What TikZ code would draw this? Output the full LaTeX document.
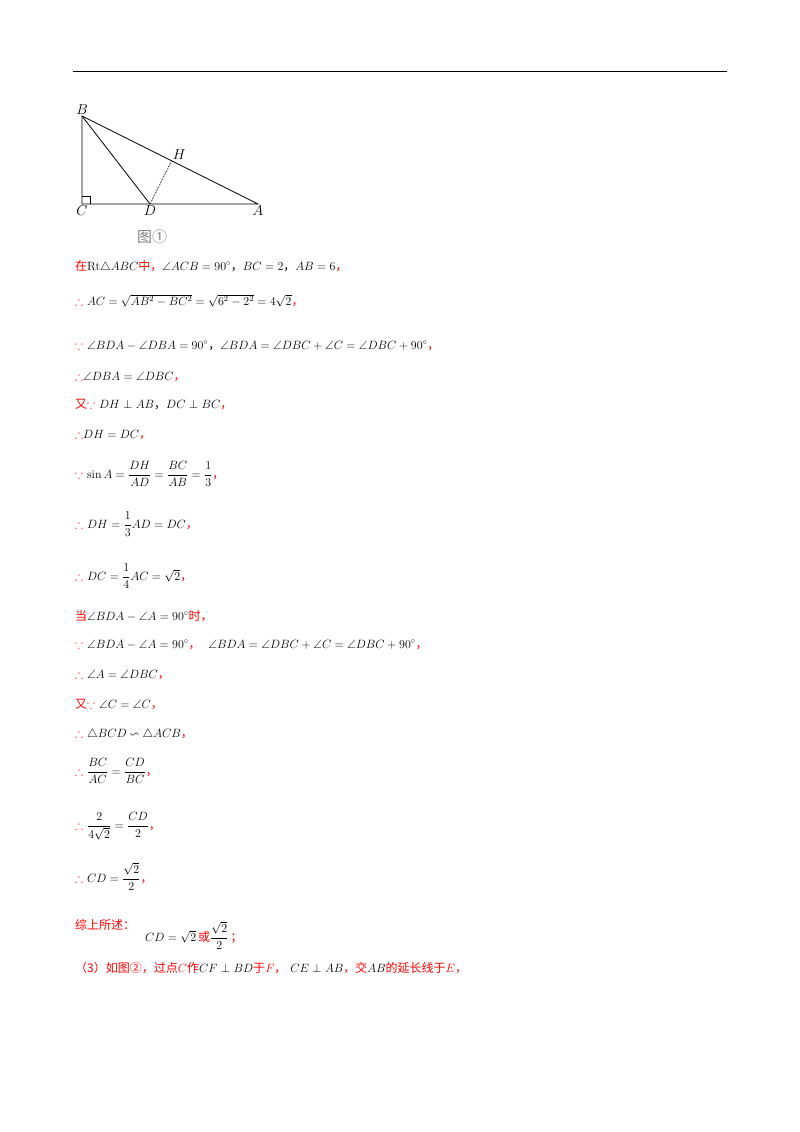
\documentclass[tikz,border=0pt]{standalone}
\usepackage{amsmath,amssymb}
\usepackage{fontspec}
\newfontfamily\cjk{Noto Sans CJK SC}
\usepackage{tikz}
\usetikzlibrary{calc}
\newcommand{\zh}[1]{{\cjk\color{red}#1}}
\newcommand{\rd}[1]{{\color{red}#1}}
\tikzset{
  line/.style={anchor=base west,inner sep=0pt,font=\fontsize{12}{14}\selectfont},
  pt/.style={font=\fontsize{14}{16}\selectfont\itshape,inner sep=1pt}
}
\begin{document}
\begin{tikzpicture}[x=1pt,y=-1pt]
\useasboundingbox (0,0) rectangle (800,1132);
\draw[line width=1pt] (73,72) -- (727,72);
% figure
\coordinate (B) at (82,116);
\coordinate (C) at (82,204);
\coordinate (D) at (150,204);
\coordinate (A) at (258,204);
\coordinate (H) at ($(B)!(D)!(A)$);
\draw[thick] (B) -- (C) -- (A) -- cycle;
\draw[thick] (B) -- (D);
\draw[densely dotted,thick] (D) -- (H);
\draw (82,196) -- (90,196) -- (90,204);
\node[pt,anchor=south] at (B) {$B$};
\node[pt,anchor=north] at (C) {$C$};
\node[pt,anchor=north] at (D) {$D$};
\node[pt,anchor=north] at (A) {$A$};
\node[pt,anchor=south west] at (H) {$H$};
\node[line,text=gray,font=\fontsize{15}{16}\selectfont] (fig) at (137,242) {\cjk 图①};
% solution
\node[line] (l1) at (75,270) {\zh{在}Rt$\triangle ABC$\zh{中，}$\angle ACB=90^\circ$\cjk，$BC=2$\cjk，$AB=6$\zh{，}};
\node[line] (l2) at (75,305) {\rd{$\therefore$} $AC=\sqrt{AB^2-BC^2}=\sqrt{6^2-2^2}=4\sqrt2$\zh{，}};
\node[line] (l3) at (75,349) {\rd{$\because$} $\angle BDA-\angle DBA=90^\circ$\cjk，$\angle BDA=\angle DBC+\angle C=\angle DBC+90^\circ$\zh{，}};
\node[line] (l4) at (75,380) {\rd{$\therefore$}$\angle DBA=\angle DBC$\zh{，}};
\node[line] (l5) at (75,408) {\zh{又}\rd{$\because$} $DH\perp AB$\cjk，$DC\perp BC$\zh{，}};
\node[line] (l6) at (75,438) {\rd{$\therefore$}$DH=DC$\zh{，}};
\node[line] (l7) at (75,478) {\rd{$\because$} $\sin A=\dfrac{DH}{AD}=\dfrac{BC}{AB}=\dfrac13$\zh{，}};
\node[line] (l8) at (75,528) {\rd{$\therefore$} $DH=\dfrac13 AD=DC$\zh{，}};
\node[line] (l9) at (75,580) {\rd{$\therefore$} $DC=\dfrac14 AC=\sqrt2$\zh{，}};
\node[line] (l10) at (75,620) {\zh{当}$\angle BDA-\angle A=90^\circ$\zh{时，}};
\node[line] (l11) at (75,648) {\rd{$\because$} $\angle BDA-\angle A=90^\circ$\zh{，}\ \ $\angle BDA=\angle DBC+\angle C=\angle DBC+90^\circ$\zh{，}};
\node[line] (l12) at (75,678) {\rd{$\therefore$} $\angle A=\angle DBC$\zh{，}};
\node[line] (l13) at (75,708) {\zh{又}\rd{$\because$} $\angle C=\angle C$\zh{，}};
\node[line] (l14) at (75,737) {\rd{$\therefore$} $\triangle BCD\backsim\triangle ACB$\zh{，}};
\node[line] (l15) at (75,775) {\rd{$\therefore$} $\dfrac{BC}{AC}=\dfrac{CD}{BC}$\zh{，}};
\node[line] (l16) at (75,829) {\rd{$\therefore$} $\dfrac{2}{4\sqrt2}=\dfrac{CD}{2}$\zh{，}};
\node[line] (l17) at (75,882) {\rd{$\therefore$} $CD=\dfrac{\sqrt2}{2}$\zh{，}};
\node[line] (l18) at (75,929) {\zh{综上所述：}};
\node[line] (l18b) at (145,941) {$CD=\sqrt2$\,\zh{或}$\dfrac{\sqrt2}{2}$\,\zh{；}};
\node[line] (l19) at (75,972) {\zh{（3）如图②，过点}\rd{$C$}\zh{作}$CF\perp BD$\zh{于}\rd{$F$}\zh{，}\ $CE\perp AB$\zh{，交}$AB$\zh{的延长线于}\rd{$E$}\zh{，}};
\end{tikzpicture}
\end{document}
